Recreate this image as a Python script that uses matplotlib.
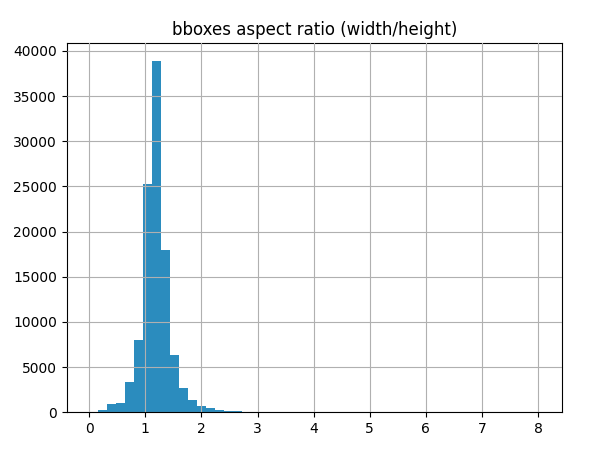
import numpy as np
import matplotlib
matplotlib.use("Agg")
import matplotlib.pyplot as plt

# Histogram data: 50 equal-width bins over the data range
data_min = 0.0
data_max = 8.03
counts = [20, 200, 960, 1070, 3400, 7950, 25300, 38900, 18000, 6300,
          2730, 1330, 700, 480, 280, 140, 130, 40, 25, 15,
          10, 8, 6, 5, 4, 3, 3, 2, 2, 2,
          1, 1, 1, 1, 1, 0, 1, 0, 1, 0,
          0, 1, 0, 0, 0, 0, 0, 0, 0, 1]
xticks = [0, 1, 2, 3, 4, 5, 6, 7, 8]
yticks = [0, 5000, 10000, 15000, 20000, 25000, 30000, 35000, 40000]
title = "bboxes aspect ratio (width/height)"

edges = np.linspace(data_min, data_max, len(counts) + 1)
centers = (edges[:-1] + edges[1:]) / 2

fig = plt.figure(figsize=(5.97, 4.5), dpi=100)
ax = fig.add_axes([0.1117, 0.0838, 0.9419 - 0.1117, 0.9038 - 0.0838])
ax.hist(centers, bins=edges, weights=counts, color="#2b8cbe")
ax.set_axisbelow(False)
ax.grid(True, color="#b0b0b0", linewidth=0.8)
ax.set_xticks(xticks)
ax.set_yticks(yticks)
ax.set_title(title)
fig.savefig("out.png", dpi=100)
